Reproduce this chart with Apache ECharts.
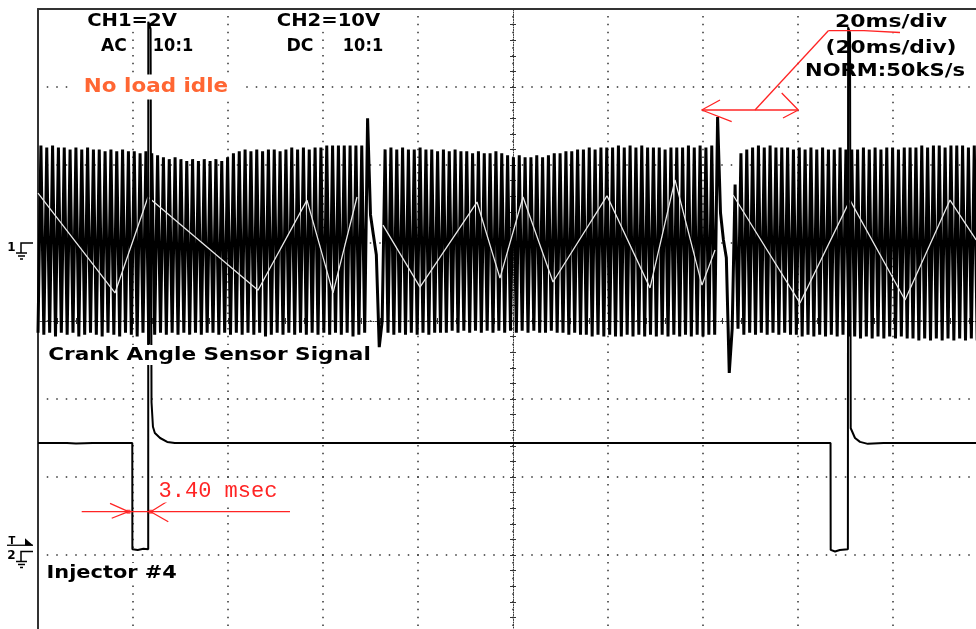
<!DOCTYPE html>
<html><head><meta charset="utf-8">
<script src="https://cdn.jsdelivr.net/npm/echarts@6/dist/echarts.min.js"></script>
<style>html,body{margin:0;padding:0;background:#fff}#c{width:976px;height:629px}</style>
</head><body><div id="c"></div><script>
// ---- scope settings ----
const MS_PER_DIV = 20;          // 20ms/div, 10 divisions
const CH1_V_PER_DIV = 2;        // CH1=2V
const CH2_V_PER_DIV = 10;       // CH2=10V
const TRIGGER_LEVEL_V = 0.8;    // CH2 trigger level

// ---- CH1: crank angle sensor, one sample every 3 deg of crank (60-2 wheel) ----
const crankV = [
 -2.3,2.5,-2.35,2.45,-2.3,2.5,-2.4,2.45,-2.3,2.45,-2.35,2.4,-2.3,2.45,-2.4,2.4,-2.35,2.45,-2.3,2.4,
 -2.35,2.4,-2.4,2.35,-2.3,2.4,-2.35,2.35,-2.4,2.4,-2.3,2.35,-2.35,2.35,-2.4,2.3,-2.3,2.35,-2.6,2.3,
 -2.35,2.25,-2.3,2.2,-2.35,2.15,-2.3,2.2,-2.35,2.15,-2.3,2.1,-2.35,2.15,-2.3,2.1,-2.35,2.15,-2.3,2.1,
 -2.3,2.15,-2.35,2.1,-2.3,2.2,-2.35,2.3,-2.3,2.35,-2.35,2.4,-2.3,2.35,-2.35,2.4,-2.3,2.35,-2.4,2.4,
 -2.35,2.4,-2.3,2.35,-2.35,2.4,-2.3,2.45,-2.35,2.4,-2.3,2.45,-2.35,2.4,-2.3,2.45,-2.35,2.45,-2.3,2.5,
 -2.35,2.5,-2.3,2.5,-2.35,2.5,-2.3,2.5,-2.4,2.5,-2.35,
 2.5,-2.3,3.2,0.72,0.2,-0.3,-2.67,-2.0,2.4,
 -2.3,2.45,-2.35,2.4,-2.3,2.45,-2.35,2.4,-2.3,2.4,-2.35,2.45,-2.3,2.4,-2.35,2.4,-2.3,2.35,-2.3,2.4,
 -2.3,2.35,-2.25,2.4,-2.3,2.35,-2.25,2.35,-2.3,2.3,-2.25,2.35,-2.3,2.3,-2.25,2.3,-2.3,2.35,-2.25,2.3,
 -2.3,2.25,-2.25,2.2,-2.3,2.25,-2.25,2.2,-2.3,2.2,-2.25,2.25,-2.3,2.2,-2.3,2.25,-2.25,2.3,-2.3,2.3,
 -2.3,2.35,-2.35,2.35,-2.3,2.4,-2.35,2.4,-2.35,2.45,-2.4,2.4,-2.35,2.45,-2.4,2.45,-2.35,2.45,-2.4,2.5,
 -2.4,2.45,-2.35,2.5,-2.4,2.45,-2.35,2.5,-2.4,2.45,-2.35,2.45,-2.4,2.45,-2.35,2.4,-2.4,2.45,-2.35,2.45,
 -2.4,2.45,-2.35,2.5,-2.4,2.45,-2.35,2.5,-2.4,2.45,-2.35,2.5,-2.35,
 3.23,0.77,0.08,-0.38,-3.33,-2.2,1.5,
 -2.2,2.3,-2.35,2.4,-2.3,2.45,-2.35,2.5,-2.3,2.45,-2.35,2.5,-2.3,2.45,-2.35,2.45,-2.3,2.45,-2.35,2.4,
 -2.35,2.45,-2.4,2.4,-2.35,2.45,-2.4,2.4,-2.35,2.45,-2.4,2.4,-2.35,2.4,-2.4,2.45,-2.35,2.4,-2.4,2.4,
 -2.4,2.4,-2.45,2.45,-2.4,2.4,-2.45,2.45,-2.4,2.4,-2.45,2.45,-2.4,2.45,-2.45,2.4,-2.4,2.45,-2.45,2.45,
 -2.45,2.45,-2.5,2.5,-2.45,2.45,-2.5,2.5,-2.45,2.5,-2.5,2.45,-2.45,2.5,-2.5,2.5,-2.45,2.5,-2.5,2.45,
 -2.45,2.5,-2.5,2.5,-2.45,2.5
];
const CRANK_SAMPLES_ON_SCREEN = 325.71; // samples spanning the 10 divisions

// aliasing envelope traces visible in CH1 [ms, V]
const aliasA = [[0,1.28],[16.21,-1.28],[23.16,1.18],[46.32,-1.21],[56.63,1.10],[62.11,-1.28],[67.16,1.18]];
const aliasB = [[72.63,0.46],[80.42,-1.13],[92.42,1.05],[97.26,-0.90],[102.11,1.18],[108.42,-1.0],[119.79,1.21],[128.84,-1.15],[134.11,1.62],[139.79,-1.08],[142.53,-0.18]];
const aliasC = [[146.32,1.23],[160.42,-1.54],[170.95,1.10],[182.53,-1.46],[192.0,1.10],[197.5,0.08]];

// ---- CH2: injector #4 [ms, V] ----
const injector = [
 [0,13.9],[3.2,13.9],[3.5,14.05],[6.1,13.9],[8.0,13.85],[8.3,14.0],[11.5,13.9],[14.2,13.9],[14.5,13.8],[17.0,13.9],
 [19.85,13.9],[19.87,0.3],[21.0,0.2],[22.2,0.35],[23.2,0.3],
 [23.22,67.9],[23.7,67.0],[23.9,19.1],[24.2,16.0],[24.6,15.2],[25.7,14.55],[27.2,14.05],[28.8,13.9],
 [33.0,13.9],[37.5,13.9],[37.8,13.8],[44.0,13.9],[52.1,13.9],[52.4,14.05],[60.0,13.9],[66.3,13.9],[66.6,13.8],
 [75.0,13.9],[84.8,13.9],[85.1,14.05],[93.0,13.9],[101.5,13.9],[101.8,13.8],[110.0,13.9],[118.6,13.9],[118.9,14.0],
 [127.0,13.9],[135.2,13.9],[135.5,13.8],[143.0,13.9],[150.4,13.9],[150.7,14.05],[158.0,13.9],[163.5,13.9],[163.8,14.0],
 [166.85,13.9],[166.88,0.2],[167.8,0.0],[168.8,0.2],[170.5,0.3],
 [170.55,67.2],[170.95,66.5],[171.1,15.8],[172.0,14.55],[173.05,14.05],[174.7,13.8],
 [178.0,13.9],[181.3,13.9],[181.6,14.05],[186.0,13.9],[190.2,13.9],[190.5,13.8],[194.0,13.9],[197.5,13.9]
];

// ---- red measurement annotations (CH2 coordinates) ----
const cursorLine = [[9.2,5.1],[53.05,5.1]];
const cursorArrowL = [[15.16,6.18],[19.05,5.1],[15.52,4.26]];
const cursorArrowR = [[27.1,6.38],[23.73,5.1],[27.43,3.82]];
const cursorDots = [[19.05,5.1],[23.73,5.1]];
const scaleUnderline = [[166.38,66.77],[173.9,66.77],[174.3,66.54],[181.47,66.54]];
const scaleLeader = [[166.38,66.77],[150.95,56.6]];
const scaleSpan = [[139.73,56.6],[160.06,56.6]];
const scaleArrowL = [[143.58,57.88],[139.73,56.6],[146.04,55.1]];
const scaleArrowR = [[156.57,58.78],[160.06,56.6],[156.84,55.58]];

const RED = '#ff2424';
const chart = echarts.init(document.getElementById('c'), null, {renderer:'canvas'});

const hidden = {axisLabel:{show:false}, axisTick:{show:false}, axisLine:{show:false, onZero:false}, splitLine:{show:false}};
function redLine(data){
  return {type:'line', xAxisIndex:0, yAxisIndex:1, data, symbol:'none', silent:true, z:6,
          lineStyle:{color:RED, width:1.3}};
}
function aliasLine(data){
  return {type:'line', xAxisIndex:0, yAxisIndex:0, data, symbol:'none', silent:true, z:4,
          lineStyle:{color:'#e8e8e8', width:1.3}};
}

chart.setOption({
  animation:false,
  backgroundColor:'#fff',
  grid:{left:38, top:9, width:950, height:624, outerBoundsMode:'none', containLabel:false},
  xAxis:[
    {type:'value', min:0, max:10*MS_PER_DIV, interval:MS_PER_DIV, position:'bottom',
     axisLabel:{show:false}, axisTick:{show:false}, axisLine:{show:false, onZero:false},
     splitLine:{show:true, lineStyle:{color:'#333', width:1.5, type:[1.5,6.3], dashOffset:0.75}}},
    {type:'value', min:0, max:CRANK_SAMPLES_ON_SCREEN, position:'top',
     axisLabel:{show:false}, axisTick:{show:false}, splitLine:{show:false},
     axisLine:{show:true, onZero:false, lineStyle:{color:'#333', width:2}}},
    {type:'value', min:0, max:50, interval:1, position:'bottom', offset:-312,
     axisLabel:{show:false}, splitLine:{show:false},
     axisLine:{show:true, onZero:false, lineStyle:{color:'#333', width:1, type:[1,1.5]}},
     axisTick:{show:true, length:3, inside:false, lineStyle:{color:'#333', width:1}}},
    {type:'value', min:0, max:50, interval:1, position:'bottom', offset:-312,
     axisLabel:{show:false}, splitLine:{show:false}, axisLine:{show:false, onZero:false},
     axisTick:{show:true, length:3, inside:true, lineStyle:{color:'#333', width:1}}}
  ],
  yAxis:[
    {type:'value', min:-5*CH1_V_PER_DIV, max:3*CH1_V_PER_DIV, interval:CH1_V_PER_DIV, position:'left',
     axisLabel:{show:false}, axisTick:{show:false},
     axisLine:{show:true, onZero:false, lineStyle:{color:'#333', width:2}},
     splitLine:{show:true, lineStyle:{color:'#333', width:1.5, type:[1.5,8], dashOffset:0.75}}},
    Object.assign({type:'value', min:-10.45, max:69.55, position:'left'}, hidden),
    {type:'value', min:0, max:40, interval:1, position:'left', offset:-475,
     axisLabel:{show:false}, splitLine:{show:false},
     axisLine:{show:true, onZero:false, lineStyle:{color:'#333', width:1, type:[1,1.5]}},
     axisTick:{show:true, length:3, inside:false, lineStyle:{color:'#333', width:1}}},
    {type:'value', min:0, max:40, interval:1, position:'left', offset:-475,
     axisLabel:{show:false}, splitLine:{show:false}, axisLine:{show:false, onZero:false},
     axisTick:{show:true, length:3, inside:true, lineStyle:{color:'#333', width:1}}}
  ],
  series:[
    {type:'line', name:'Crank Angle Sensor Signal', xAxisIndex:1, yAxisIndex:0,
     data: crankV.map((v,i)=>[i,v]), symbol:'none', silent:true, z:3,
     lineStyle:{color:'#000', width:3.0, join:'bevel'}},
    aliasLine(aliasA), aliasLine(aliasB), aliasLine(aliasC),
    {type:'line', name:'Injector #4', xAxisIndex:0, yAxisIndex:1, data:injector,
     symbol:'none', silent:true, z:5, lineStyle:{color:'#000', width:2}},
    redLine(cursorLine), redLine(cursorArrowL), redLine(cursorArrowR),
    redLine(scaleUnderline), redLine(scaleLeader), redLine(scaleSpan), redLine(scaleArrowL), redLine(scaleArrowR),
    {type:'scatter', xAxisIndex:0, yAxisIndex:1, data:cursorDots, symbol:'rect', symbolSize:4,
     itemStyle:{color:RED}, silent:true, z:7}
  ]
});

// ---- texts & channel markers ----
const BOLD = 'bold 18px "DejaVu Sans"';
function txt(text, cx, cy, sx, opts){
  opts = opts || {};
  return {type:'text', x:cx, y:cy, scaleX:sx, z:opts.z || 1, silent:true,
    style:{text, font:opts.font || BOLD, fill:opts.fill || '#000',
      align:'center', verticalAlign:'middle', textAlign:'center', textVerticalAlign:'middle',
      backgroundColor:'#fff', padding:opts.padding || [1,2]}};
}
const y1 = chart.convertToPixel({yAxisIndex:0}, 0);
const y2 = chart.convertToPixel({yAxisIndex:1}, 0);
const yT = chart.convertToPixel({yAxisIndex:1}, TRIGGER_LEVEL_V);

function ground(label, y0){
  const ls = {stroke:'#000', lineWidth:1.5};
  return [
    {type:'text', x:11.5, y:y0+4.5, z:1, silent:true,
     style:{text:label, font:'bold 12px "DejaVu Sans"', fill:'#000', align:'center', verticalAlign:'middle', textAlign:'center', textVerticalAlign:'middle'}},
    {type:'polyline', z:1, silent:true, shape:{points:[[33,y0],[21,y0],[21,y0+10]]}, style:ls},
    {type:'line', z:1, silent:true, shape:{x1:16,y1:y0+10,x2:27,y2:y0+10}, style:ls},
    {type:'line', z:1, silent:true, shape:{x1:18,y1:y0+13,x2:25,y2:y0+13}, style:ls},
    {type:'line', z:1, silent:true, shape:{x1:20,y1:y0+16,x2:23,y2:y0+16}, style:ls}
  ];
}

const elements = [
  txt('CH1=2V', 132, 21.5, 1.09),
  txt('AC', 114, 46.5, 0.95),
  txt('10:1', 173, 46.5, 0.9),
  txt('CH2=10V', 328.5, 21.5, 1.09),
  txt('DC', 300, 46.5, 0.96),
  txt('10:1', 363, 46.5, 0.9),
  txt('20ms/div', 891, 22.5, 1.22),
  txt('(20ms/div)', 891, 48.5, 1.21),
  txt('NORM:50kS/s', 885, 71.5, 1.17),
  txt('No load idle', 156, 87, 1.13, {font:'bold 19px "DejaVu Sans"', fill:'#ff6633', z:50, padding:[3,11]}),
  txt('Crank Angle Sensor Signal', 209.5, 355, 1.2, {z:50}),
  txt('Injector #4', 111.7, 573, 1.16, {z:50}),
  txt('3.40 msec', 218, 491.5, 1.0, {font:'22px "Liberation Mono"', fill:RED, z:50, padding:[0,1]})
].concat(ground('1', y1), ground('2', y2), [
  {type:'text', x:12, y:yT-3.5, z:1, silent:true,
   style:{text:'T', font:'bold 10px "DejaVu Sans"', fill:'#000', align:'center', verticalAlign:'middle', textAlign:'center', textVerticalAlign:'middle'}},
  {type:'polygon', z:1, silent:true, shape:{points:[[25,yT-7],[25,yT],[33,yT]]}, style:{fill:'#000'}},
  {type:'line', z:1, silent:true, shape:{x1:7,y1:yT,x2:33,y2:yT}, style:{stroke:'#000', lineWidth:1.3}}
]);
chart.setOption({graphic:{elements}});
</script></body></html>
